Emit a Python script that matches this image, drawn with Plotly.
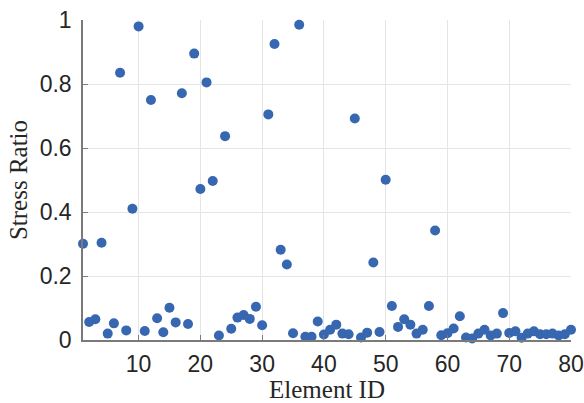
import plotly.graph_objects as go

element_id = list(range(1, 81))
stress_ratio = [
    0.301, 0.056, 0.065, 0.304, 0.020, 0.052, 0.835, 0.030, 0.410, 0.980,
    0.028, 0.750, 0.068, 0.024, 0.101, 0.055, 0.771, 0.050, 0.895, 0.472,
    0.805, 0.497, 0.014, 0.637, 0.035, 0.070, 0.078, 0.066, 0.104, 0.046,
    0.705, 0.925, 0.282, 0.236, 0.021, 0.985, 0.010, 0.010, 0.058, 0.017,
    0.032, 0.048, 0.020, 0.018, 0.692, 0.008, 0.023, 0.242, 0.025, 0.501,
    0.106, 0.041, 0.065, 0.048, 0.020, 0.032, 0.106, 0.342, 0.015, 0.021,
    0.036, 0.074, 0.008, 0.005, 0.020, 0.032, 0.014, 0.020, 0.084, 0.022,
    0.027, 0.007, 0.020, 0.027, 0.018, 0.018, 0.020, 0.014, 0.018, 0.032,
]
x_ticks = [10, 20, 30, 40, 50, 60, 70, 80]
y_ticks = [0, 0.2, 0.4, 0.6, 0.8, 1]
y_tick_text = ["0", "0.2", "0.4", "0.6", "0.8", "1"]

fig = go.Figure()
fig.add_trace(go.Scatter(
    x=element_id, y=stress_ratio, mode="markers",
    marker=dict(size=10, color="#3767B1", line=dict(width=0)),
    cliponaxis=False, showlegend=False,
))

axis_common = dict(
    showgrid=True, gridcolor="#E5E5E5", gridwidth=1,
    showline=True, linecolor="#7A7A7A", linewidth=1.5,
    ticks="inside", ticklen=5, tickcolor="#7A7A7A", tickwidth=1,
    zeroline=False, ticklabeloverflow="allow",
    tickfont=dict(family="Liberation Sans, Arial", size=23, color="#262626"),
)

fig.update_xaxes(
    range=[1, 80], tickvals=x_ticks, ticktext=[str(v) for v in x_ticks],
    title=dict(text="Element ID", font=dict(family="Liberation Serif, Times New Roman", size=25, color="#262626"), standoff=8),
    ticklabelstandoff=3,
    **axis_common,
)
fig.update_yaxes(
    range=[0, 1], tickvals=y_ticks, ticktext=y_tick_text,
    title=dict(text="Stress Ratio", font=dict(family="Liberation Serif, Times New Roman", size=25, color="#262626"), standoff=5),
    ticklabelstandoff=5,
    **axis_common,
)

fig.update_layout(
    width=584, height=403,
    margin=dict(l=83, r=13, t=20, b=63, autoexpand=False),
    paper_bgcolor="white", plot_bgcolor="white",
)

fig.write_html("out.html", config={"displayModeBar": False},
               post_script="document.body.style.margin='0';")
